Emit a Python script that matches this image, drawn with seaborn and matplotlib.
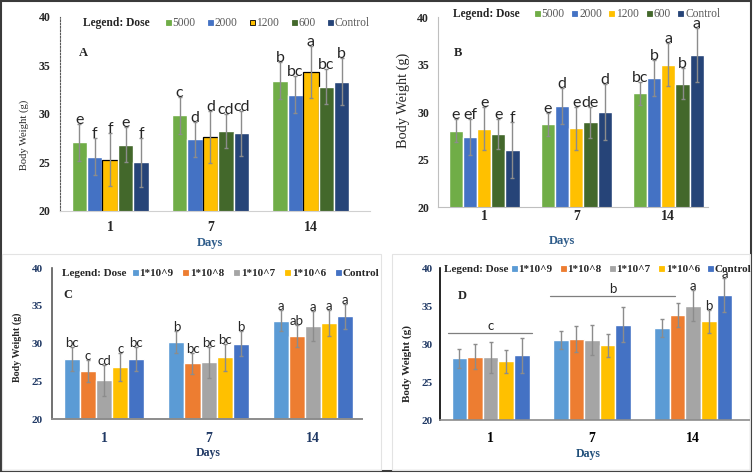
import pandas as pd
import matplotlib.pyplot as plt
import seaborn as sns
from matplotlib.lines import Line2D
from matplotlib.patches import Rectangle

W, H = 754, 473
days = ["1", "7", "14"]

doses_ab = ["5000", "2000", "1200", "600", "Control"]
colors_ab = ["#70AD47", "#4472C4", "#FFC000", "#43682B", "#264478"]
doses_cd = ["1*10^9", "1*10^8", "1*10^7", "1*10^6", "Control"]
colors_cd = ["#5B9BD5", "#ED7D31", "#A5A5A5", "#FFC000", "#4472C4"]

# rows = dose, columns = day 1, 7, 14
a_mean = [[27.1, 29.85, 33.45], [25.6, 27.4, 32.0], [25.3, 27.65, 34.3],
          [26.85, 28.25, 32.8], [25.0, 28.0, 33.35]]
a_err = [[1.9, 1.9, 1.9], [1.9, 1.8, 1.9], [2.7, 2.7, 2.7],
         [1.8, 1.8, 1.8], [2.5, 2.3, 2.4]]
a_sig = [["e", "c", "b"], ["f", "d", "bc"], ["f", "d", "a"],
         ["e", "cd", "bc"], ["f", "cd", "b"]]

b_mean = [[28.05, 28.7, 31.95], [27.35, 30.65, 33.6], [28.25, 28.3, 35.0],
          [27.7, 28.9, 33.0], [26.0, 30.0, 36.0]]
b_err = [[1.25, 1.2, 1.25], [1.9, 1.9, 1.9], [2.3, 2.25, 2.25],
         [1.6, 1.6, 1.6], [2.9, 2.9, 2.8]]
b_sig = [["e", "e", "bc"], ["ef", "d", "b"], ["e", "e", "a"],
         ["e", "de", "b"], ["f", "d", "a"]]

c_mean = [[27.95, 30.2, 33.0], [26.35, 27.4, 30.95], [25.15, 27.5, 32.3],
          [26.85, 28.2, 32.7], [27.95, 30.0, 33.6]]
c_err = [[1.6, 1.45, 1.4], [1.45, 1.4, 1.45], [2.05, 2.05, 2.0],
         [1.85, 1.8, 1.7], [1.6, 1.6, 1.65]]
c_sig = [["bc", "b", "a"], ["c", "bc", "ab"], ["cd", "bc", "a"],
         ["c", "bc", "a"], ["bc", "b", "a"]]

d_mean = [[28.1, 30.5, 32.1], [28.35, 30.65, 33.8], [28.25, 30.5, 35.05],
          [27.75, 29.85, 33.0], [28.55, 32.55, 36.45]]
d_err = [[1.2, 1.15, 1.15], [1.6, 1.7, 1.6], [2.05, 2.0, 2.0],
         [1.5, 1.5, 1.5], [2.3, 2.3, 2.3]]
d_sig = [["", "", ""], ["", "", ""], ["", "", "a"],
         ["", "", "b"], ["", "", "a"]]
# group brackets in panel D: x start, x end, y, letter
d_spans = [(-0.42, 0.41, 31.45, "c"), (0.59, 1.82, 36.35, "b")]

sns.set_style("white")
plt.rcParams["font.family"] = ["Liberation Serif", "DejaVu Serif"]

fig = plt.figure(figsize=(W / 100, H / 100), dpi=100)


def px_rect(x0, y0, x1, y1):
    return [x0 / W, 1 - y1 / H, (x1 - x0) / W, (y1 - y0) / H]


def fx(x):
    return x / W


def fy(y):
    return 1 - y / H


def draw_panel(ax, mean, err, sig, doses, colors, letter_size, xmax, edge_idx=None):
    rows = []
    for i, dose in enumerate(doses):
        for j, day in enumerate(days):
            rows.append({"Days": day, "Dose": dose, "Weight": mean[i][j]})
    df = pd.DataFrame(rows)
    sns.barplot(data=df, x="Days", y="Weight", hue="Dose", order=days,
                hue_order=doses, palette=colors, errorbar=None, width=0.77,
                saturation=1, legend=False, ax=ax)
    bar_groups = list(ax.containers)
    for i, cont in enumerate(bar_groups):
        for j, bar in enumerate(cont):
            if i == edge_idx:
                bar.set_edgecolor("black")
                bar.set_linewidth(0.9)
            xc = bar.get_x() + bar.get_width() / 2
            ax.errorbar(xc, mean[i][j], yerr=err[i][j], fmt="none",
                        ecolor="#8C8C8C", elinewidth=1, capsize=1.5,
                        capthick=1)
            if sig[i][j]:
                ax.text(xc, mean[i][j] + err[i][j], sig[i][j],
                        ha="center", va="baseline", fontsize=letter_size,
                        family="Lato")
    ax.set_ylim(20, 40)
    ax.set_xlim(-0.5, xmax)
    ax.set_yticks([20, 25, 30, 35, 40])
    ax.set_xlabel("")
    ax.set_ylabel("")
    ax.tick_params(length=0)
    sns.despine(ax=ax)


def add_legend(doses, colors, x_title, x_items, y, size, bold, colsp,
               edge_idx=None):
    fig.text(fx(x_title), fy(y), "Legend: Dose", fontsize=size,
             fontweight="bold", va="center", ha="left")
    handles = []
    for i, c in enumerate(colors):
        handles.append(Line2D([], [], marker="s", linestyle="none",
                              markerfacecolor=c, markersize=3.6,
                              markeredgecolor="black" if i == edge_idx else c,
                              markeredgewidth=0.6))
    fig.legend(handles, doses, loc="center left",
               bbox_to_anchor=(fx(x_items), fy(y)), ncol=5, frameon=False,
               handlelength=0.45, handletextpad=0.2, columnspacing=colsp,
               borderaxespad=0, borderpad=0,
               prop={"size": size, "weight": "bold" if bold else "normal",
                     "family": "Liberation Serif"},
               labelcolor="#262626" if bold else "#595959")


# ---- panel A ----
ax_a = fig.add_axes(px_rect(60, 17, 370, 211))
draw_panel(ax_a, a_mean, a_err, a_sig, doses_ab, colors_ab, 11.5, 2.59, edge_idx=2)
ax_a.spines["left"].set_linestyle((0, (1.5, 1.5)))
ax_a.spines["left"].set_color("#595959")
ax_a.spines["left"].set_linewidth(0.8)
ax_a.spines["bottom"].set_color("#D0D0D0")
ax_a.tick_params(axis="y", labelsize=8.5, pad=7)
ax_a.tick_params(axis="x", labelsize=10, pad=7)
for t in ax_a.get_xticklabels() + ax_a.get_yticklabels():
    t.set_fontweight("bold")
fig.text(fx(79), fy(53), "A", fontsize=9, fontweight="bold", ha="left", va="center")
fig.text(fx(24), fy(135), "Body Weight (g)", fontsize=7.6, rotation=90,
         ha="center", va="center")
fig.text(fx(210), fy(243), "Days", fontsize=9, fontweight="bold",
         color="#2E5C8A", ha="center", va="center")
add_legend(doses_ab, colors_ab, 83, 165, 23, 8.3, False, 1.0, edge_idx=2)

# ---- panel B ----
ax_b = fig.add_axes(px_rect(438, 17, 708, 207))
draw_panel(ax_b, b_mean, b_err, b_sig, doses_ab, colors_ab, 11.5, 2.43)
ax_b.spines["left"].set_color("#BFBFBF")
ax_b.spines["bottom"].set_color("#BFBFBF")
ax_b.tick_params(axis="y", labelsize=8.5, pad=6.5)
ax_b.tick_params(axis="x", labelsize=10, pad=2)
for t in ax_b.get_xticklabels() + ax_b.get_yticklabels():
    t.set_fontweight("bold")
fig.text(fx(454), fy(53), "B", fontsize=9, fontweight="bold", ha="left", va="center")
fig.text(fx(403), fy(100), "Body Weight (g)", fontsize=10.3, rotation=90,
         ha="center", va="center")
fig.text(fx(562), fy(241), "Days", fontsize=9, fontweight="bold",
         color="#2E5C8A", ha="center", va="center")
add_legend(doses_ab, colors_ab, 453, 534, 14, 8.3, False, 0.6)

# ---- panel C ----
ax_c = fig.add_axes(px_rect(52, 268, 362, 419))
draw_panel(ax_c, c_mean, c_err, c_sig, doses_cd, colors_cd, 9.5, 2.47)
ax_c.spines["left"].set_color("#595959")
ax_c.spines["left"].set_linewidth(1.2)
ax_c.spines["bottom"].set_color("#8C8C8C")
ax_c.spines["bottom"].set_linewidth(1.4)
ax_c.tick_params(axis="y", labelsize=8, pad=6.5, labelcolor="#1F3864")
ax_c.tick_params(axis="x", labelsize=10, pad=9, labelcolor="#1F3864")
for t in ax_c.get_xticklabels() + ax_c.get_yticklabels():
    t.set_fontweight("bold")
fig.text(fx(63), fy(295), "C", fontsize=9, fontweight="bold", ha="left", va="center")
fig.text(fx(17), fy(347), "Body Weight (g)", fontsize=7.2, fontweight="bold",
         rotation=90, ha="center", va="center")
fig.text(fx(208), fy(453), "Days", fontsize=8.5, fontweight="bold",
         color="#1F3864", ha="center", va="center")
add_legend(doses_cd, colors_cd, 62, 132, 273, 8, True, 0.85)

# ---- panel D ----
ax_d = fig.add_axes(px_rect(440, 268, 750, 420))
draw_panel(ax_d, d_mean, d_err, d_sig, doses_cd, colors_cd, 9.5, 2.56)
ax_d.spines["left"].set_color("black")
ax_d.spines["left"].set_linewidth(1.2)
ax_d.spines["bottom"].set_color("#8C8C8C")
ax_d.spines["bottom"].set_linewidth(1.2)
ax_d.tick_params(axis="y", labelsize=8, pad=5, labelcolor="#1F3864")
ax_d.tick_params(axis="x", labelsize=10, pad=9, labelcolor="black")
for t in ax_d.get_xticklabels() + ax_d.get_yticklabels():
    t.set_fontweight("bold")
for x0, x1, yv, lab in d_spans:
    ax_d.plot([x0, x1], [yv, yv], color="#7F7F7F", lw=0.9)
    ax_d.text((x0 + x1) / 2, yv + 0.35, lab, ha="center", va="baseline",
              fontsize=9.5, family="Lato")
fig.text(fx(458), fy(296), "D", fontsize=9, fontweight="bold", ha="left", va="center")
fig.text(fx(407), fy(363), "Body Weight (g)", fontsize=8, fontweight="bold",
         rotation=90, ha="center", va="center")
fig.text(fx(588), fy(454), "Days", fontsize=8.5, fontweight="bold",
         color="#1F4E79", ha="center", va="center")
add_legend(doses_cd, colors_cd, 444, 511, 269, 8, True, 0.7)

# frames
fig.add_artist(Rectangle((fx(1), fy(471)), fx(750), 470 / H, fill=False,
                         ec="#3A3A3A", lw=1.5, transform=fig.transFigure))
fig.add_artist(Rectangle((fx(2), fy(470)), fx(379), 216 / H, fill=False,
                         ec="#E3E3E3", lw=0.8, transform=fig.transFigure))
fig.add_artist(Rectangle((fx(392), fy(470)), fx(358), 216 / H, fill=False,
                         ec="#E3E3E3", lw=0.8, transform=fig.transFigure))

fig.savefig("out.png", dpi=100)
